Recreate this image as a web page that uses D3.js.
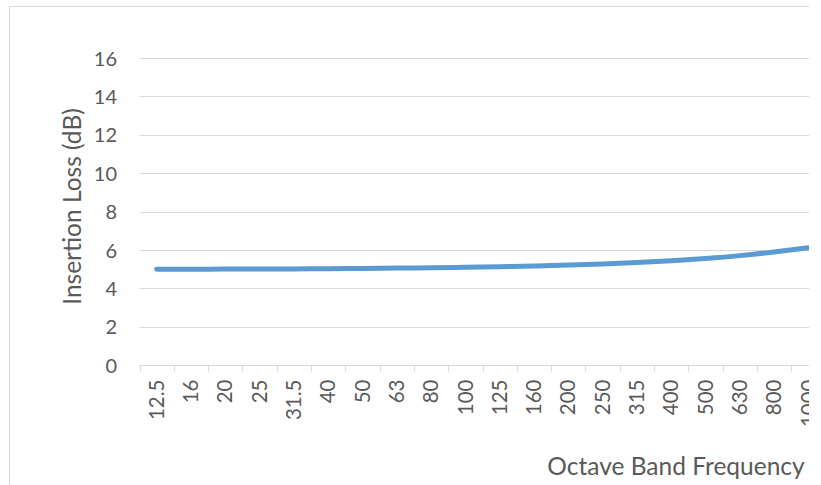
<!DOCTYPE html>
<html>
<head>
<meta charset="utf-8">
<script src="https://cdn.jsdelivr.net/npm/d3@7"></script>
<style>
  html, body { margin: 0; padding: 0; background: #fff; }
  svg { display: block; }
  text { font-family: Lato, "Open Sans", sans-serif; fill: #595959; }
</style>
</head>
<body>
<svg id="chart" width="821" height="485"></svg>
<script>
const categories = ["12.5","16","20","25","31.5","40","50","63","80","100","125","160","200","250","315","400","500","630","800","1000"];
const insertionLoss = [5.00,5.00,5.01,5.01,5.02,5.03,5.04,5.06,5.08,5.10,5.13,5.17,5.22,5.28,5.35,5.44,5.56,5.71,5.90,6.12];
const yTicks = [0,2,4,6,8,10,12,14,16];
const yTitle = "Insertion Loss (dB)";
const xTitle = "Octave Band Frequency";

const svg = d3.select("#chart");
const W = 821, H = 485;
const clipRight = 809;

svg.append("defs").append("clipPath").attr("id","crop")
  .append("rect").attr("x",0).attr("y",0).attr("width",clipRight).attr("height",H);

const g = svg.append("g").attr("clip-path","url(#crop)");

// chart border
g.append("rect").attr("x",9.5).attr("y",6.5).attr("width",W+20).attr("height",H+20)
  .attr("fill","none").attr("stroke","#d9d9d9").attr("stroke-width",1);

const x = d3.scaleBand().domain(categories).range([139.5, 139.5 + 34.3*categories.length]).paddingInner(0).paddingOuter(0);
const y = d3.scaleLinear().domain([0,16]).range([365.3, 58]);

// gridlines
g.append("g").selectAll("line").data(yTicks.filter(d=>d>0)).join("line")
  .attr("x1",x.range()[0]).attr("x2",x.range()[1])
  .attr("y1",d=>Math.round(y(d))+0.5).attr("y2",d=>Math.round(y(d))+0.5)
  .attr("stroke","#d9d9d9").attr("stroke-width",1);

// y axis labels
const yAxis = d3.axisLeft(y).tickValues(yTicks).tickSize(0).tickPadding(0);
const ya = g.append("g").attr("transform","translate(117,0)").call(yAxis);
ya.select(".domain").remove();
ya.selectAll("text").style("font-size","20px").attr("fill","#595959").attr("dy","0.35em");

// x axis
const xa = g.append("g").attr("transform",`translate(0,${Math.round(y(0))+0.5})`);
xa.append("line").attr("x1",x.range()[0]).attr("x2",x.range()[1]).attr("stroke","#d9d9d9");
const bounds = categories.map(c=>x(c)).concat([x.range()[1]]);
xa.selectAll("line.tk").data(bounds).join("line").attr("class","tk")
  .attr("x1",d=>Math.round(d)+0.5).attr("x2",d=>Math.round(d)+0.5)
  .attr("y1",0).attr("y2",6).attr("stroke","#d9d9d9");
xa.selectAll("text.lbl").data(categories).join("text").attr("class","lbl")
  .attr("transform",d=>`translate(${x(d)+x.bandwidth()/2},14) rotate(-90)`)
  .attr("text-anchor","end").attr("dy","0.35em")
  .style("font-size","20.5px").text(d=>d);

// line
const line = d3.line()
  .x((d,i)=>x(categories[i])+x.bandwidth()/2)
  .y(d=>y(d))
  .curve(d3.curveCatmullRom.alpha(0.5));
g.append("path").datum(insertionLoss).attr("d",line)
  .attr("fill","none").attr("stroke","#5b9bd5").attr("stroke-width",5)
  .attr("stroke-linecap","round").attr("stroke-linejoin","round");

// axis titles
g.append("text").attr("transform","translate(81,206.5) rotate(-90)")
  .attr("text-anchor","middle")
  .style("font-size","24.5px").text(yTitle);
g.append("text").attr("x",676).attr("y",475)
  .attr("text-anchor","middle").style("font-size","24.5px").text(xTitle);
</script>
</body>
</html>
